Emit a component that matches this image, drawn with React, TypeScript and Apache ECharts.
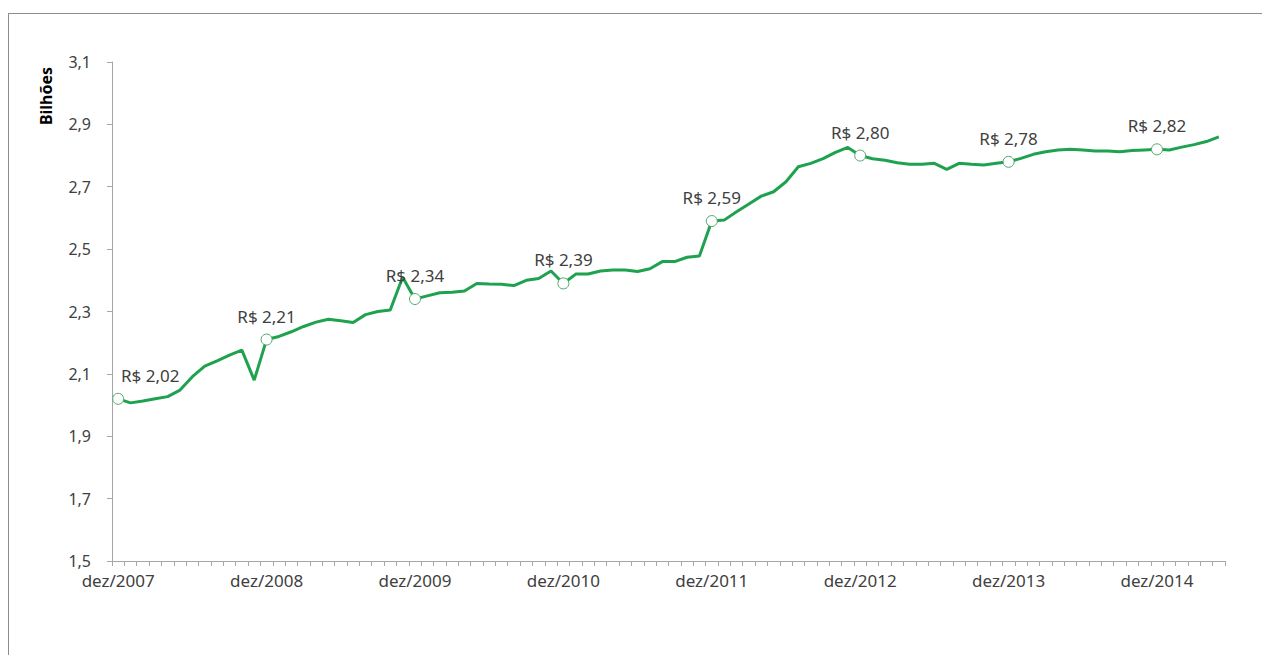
import React, { useEffect, useRef } from "react";
import * as echarts from "echarts";

const monthNames = ["jan", "fev", "mar", "abr", "mai", "jun", "jul", "ago", "set", "out", "nov", "dez"];
const startYear = 2007;
const startMonthIndex = 11; // dez
const values = [
  2.02, 2.007, 2.013, 2.02, 2.027, 2.048, 2.091, 2.125, 2.142, 2.16, 2.176, 2.08,
  2.21, 2.22, 2.235, 2.252, 2.266, 2.275, 2.27, 2.265, 2.29, 2.3, 2.305, 2.41,
  2.34, 2.35, 2.36, 2.362, 2.366, 2.39, 2.388, 2.387, 2.383, 2.4, 2.406, 2.43,
  2.39, 2.42, 2.42, 2.43, 2.433, 2.433, 2.428, 2.437, 2.46, 2.46, 2.474, 2.478,
  2.59, 2.593, 2.62, 2.645, 2.67, 2.684, 2.716, 2.764, 2.775, 2.79, 2.81, 2.826,
  2.8, 2.79, 2.785, 2.777, 2.772, 2.772, 2.775, 2.756, 2.775, 2.772, 2.77, 2.775,
  2.78, 2.791, 2.804, 2.812, 2.818, 2.82, 2.818, 2.815, 2.815, 2.812, 2.816, 2.818,
  2.82, 2.818, 2.827, 2.835, 2.845, 2.86,
];
const yTicks = [1.5, 1.7, 1.9, 2.1, 2.3, 2.5, 2.7, 2.9, 3.1];

const categories = values.map((_, i) => {
  const m = startMonthIndex + i;
  return monthNames[m % 12] + "/" + (startYear + Math.floor(m / 12));
});

const GREEN = "#1fa24f";
const TEXT = "#404040";
const AXIS = "#a6a6a6";
const FONT = "'Noto Sans', 'Open Sans', sans-serif";

export default function App() {
  const ref = useRef<HTMLDivElement>(null);
  useEffect(() => {
    if (!ref.current) return;
    const chart = echarts.init(ref.current, null, { renderer: "svg" });
    const data = values.map((v, i) => {
      const isDec = categories[i].startsWith("dez");
      if (!isDec) return { value: v, symbol: "none" };
      return {
        value: v,
        symbol: "circle",
        symbolSize: 11,
        itemStyle: { color: "#ffffff", borderColor: "#4fa96c", borderWidth: 1 },
        label: {
          show: true,
          position: "top",
          distance: 9,
          offset: i === 0 ? [32, 0] : [0, 0],
          formatter: (p: any) => "R$ " + Number(p.value).toFixed(2).replace(".", ","),
          color: TEXT,
          fontSize: 17,
          fontFamily: FONT,
        },
      };
    });
    chart.setOption({
      animation: false,
      backgroundColor: "transparent",
      grid: { left: 104, top: 54, right: 37, bottom: 94, containLabel: false },
      xAxis: {
        type: "category",
        data: categories,
        boundaryGap: true,
        axisLine: { lineStyle: { color: AXIS, width: 1 } },
        axisTick: { show: true, interval: 0, length: 5, lineStyle: { color: AXIS } },
        axisLabel: {
          interval: 11,
          margin: 11,
          color: TEXT,
          fontSize: 17,
          fontFamily: FONT,
        },
        splitLine: { show: false },
      },
      yAxis: {
        type: "value",
        min: 1.5,
        max: 3.1,
        axisLine: { show: true, lineStyle: { color: AXIS, width: 1 } },
        axisTick: { show: true, length: 5, lineStyle: { color: AXIS }, customValues: yTicks },
        axisLabel: {
          customValues: yTicks,
          margin: 21,
          color: TEXT,
          fontSize: 16,
          fontFamily: FONT,
          formatter: (v: number) => v.toFixed(1).replace(".", ","),
        },
        splitLine: { show: false },
      },
      graphic: [
        {
          type: "text",
          x: 38,
          y: 88,
          rotation: Math.PI / 2,
          style: {
            text: "Bilhões",
            fill: "#000000",
            font: "bold 16px 'Noto Sans', sans-serif",
            align: "center",
            verticalAlign: "middle",
          },
        },
      ],
      series: [
        {
          type: "line",
          data,
          showSymbol: true,
          smooth: false,
          lineStyle: { color: GREEN, width: 3 },
          itemStyle: { color: GREEN },
          emphasis: { disabled: true },
          z: 2,
        },
      ],
    });
    return () => chart.dispose();
  }, []);

  return (
    <div style={{ position: "relative", width: 1254, height: 647 }}>
      <div
        style={{
          position: "absolute",
          left: 0,
          top: 5,
          width: 1262,
          height: 650,
          boxSizing: "border-box",
          borderTop: "1px solid #8c8c8c",
          borderLeft: "1px solid #8c8c8c",
        }}
      />
      <div ref={ref} style={{ position: "absolute", left: 0, top: 0, width: 1254, height: 647 }} />
    </div>
  );
}
